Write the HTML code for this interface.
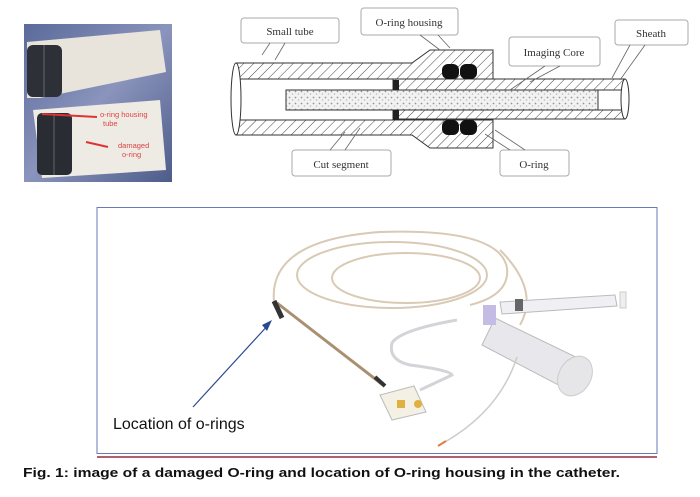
<!DOCTYPE html>
<html><head><meta charset="utf-8"><style>
html,body{margin:0;padding:0;background:#fff;}
svg{display:block;}
.sr{font-family:"Liberation Serif",serif;}
.ss{font-family:"Liberation Sans",sans-serif;}
</style></head><body>
<svg width="700" height="497" viewBox="0 0 700 497" xmlns="http://www.w3.org/2000/svg">
<defs>
<pattern id="hat" width="7" height="7" patternUnits="userSpaceOnUse" patternTransform="rotate(45)">
<rect width="7" height="7" fill="#fff"/><line x1="0" y1="0" x2="0" y2="7" stroke="#444" stroke-width="1"/></pattern>
<pattern id="dots" width="6" height="6" patternUnits="userSpaceOnUse">
<rect width="6" height="6" fill="#f2f2f2"/><circle cx="1.5" cy="1.5" r="0.9" fill="#999"/><circle cx="4.5" cy="4" r="0.8" fill="#bbb"/></pattern>
<linearGradient id="ph" x1="0" y1="0" x2="1" y2="1"><stop offset="0" stop-color="#5a6a9a"/><stop offset="0.5" stop-color="#8a94bc"/><stop offset="1" stop-color="#4e5c8a"/></linearGradient>
</defs>

<!-- photo -->
<rect x="24" y="24" width="148" height="158" fill="url(#ph)"/>
<path d="M27 42 L160 30 L166 72 L40 98 L27 98 Z" fill="#e8e4dc"/>
<path d="M33 110 L160 100 L166 170 L42 178 Z" fill="#eeeae4"/>
<rect x="27" y="45" width="35" height="52" rx="6" fill="#2e3038"/>
<line x1="44" y1="45" x2="44" y2="97" stroke="#666"/>
<rect x="37" y="113" width="35" height="62" rx="5" fill="#2a2c34"/>
<line x1="54" y1="113" x2="54" y2="175" stroke="#666"/>
<line x1="97" y1="117" x2="42" y2="114" stroke="#d33" stroke-width="2"/>
<line x1="108" y1="147" x2="86" y2="142" stroke="#d33" stroke-width="2"/>
<text class="ss" x="100" y="117" font-size="7.5" fill="#d44">o-ring housing</text>
<text class="ss" x="103" y="126" font-size="7.5" fill="#d44">tube</text>
<text class="ss" x="118" y="148" font-size="7.5" fill="#d44">damaged</text>
<text class="ss" x="122" y="157" font-size="7.5" fill="#d44">o-ring</text>

<!-- cross-section diagram -->
<g stroke="#333" stroke-width="1">
<path d="M236 63 L412 63 L430 50 L493 50 L493 79 L236 79 Z" fill="url(#hat)"/>
<path d="M236 120 L493 120 L493 148 L430 148 L412 135 L236 135 Z" fill="url(#hat)"/>
<ellipse cx="236" cy="99" rx="5" ry="36" fill="#fff"/>
<rect x="393" y="79" width="232" height="11" fill="url(#hat)"/>
<rect x="393" y="110" width="232" height="9" fill="url(#hat)"/>
<ellipse cx="625" cy="99" rx="4" ry="20" fill="#fff"/>
<rect x="286" y="90" width="312" height="20" fill="url(#dots)"/>
</g>
<rect x="393" y="80" width="6" height="10" fill="#222"/>
<rect x="393" y="110" width="6" height="10" fill="#222"/>
<g fill="#111">
<rect x="442" y="64" width="17" height="15" rx="6"/><rect x="460" y="64" width="17" height="15" rx="6"/>
<rect x="442" y="120" width="17" height="15" rx="6"/><rect x="460" y="120" width="17" height="15" rx="6"/>
</g>
<g fill="#fff" stroke="#aaa" stroke-width="1">
<rect x="241" y="18" width="98" height="25" rx="3"/>
<rect x="361" y="8" width="97" height="27" rx="3"/>
<rect x="509" y="37" width="91" height="29" rx="3"/>
<rect x="615" y="20" width="73" height="25" rx="3"/>
<rect x="292" y="150" width="99" height="26" rx="3"/>
<rect x="500" y="150" width="69" height="26" rx="3"/>
</g>
<g stroke="#666" stroke-width="0.8" fill="none">
<path d="M270 43 L262 55 M285 43 L275 60"/>
<path d="M420 35 L440 50 M438 35 L450 48"/>
<path d="M545 66 L510 90 M560 66 L530 82"/>
<path d="M630 45 L612 78 M645 45 L620 80"/>
<path d="M330 150 L345 132 M345 150 L360 128"/>
<path d="M510 150 L485 134 M525 150 L495 130"/>
</g>
<g class="sr" font-size="11" fill="#333" text-anchor="middle">
<text x="290" y="35">Small tube</text>
<text x="409" y="26">O-ring housing</text>
<text x="554" y="56">Imaging Core</text>
<text x="651" y="37">Sheath</text>
<text x="341" y="168">Cut segment</text>
<text x="534" y="168">O-ring</text>
</g>

<!-- catheter box -->
<rect x="97" y="207.5" width="560" height="246" fill="#fff" stroke="#6a7ab8" stroke-width="1"/>
<line x1="97" y1="457" x2="657" y2="457" stroke="#b06070" stroke-width="2"/>
<g fill="none" stroke="#d8cab4" stroke-width="2">
<path d="M274 302 Q268 240 380 232 Q500 228 507 268 Q510 295 470 305"/>
<path d="M500 250 Q540 290 520 325"/>
<ellipse cx="392" cy="275" rx="95" ry="33"/>
<ellipse cx="406" cy="278" rx="74" ry="25"/>
</g>
<line x1="277" y1="303" x2="383" y2="385" stroke="#a89070" stroke-width="3"/>
<line x1="274" y1="301" x2="282" y2="318" stroke="#333" stroke-width="5"/>
<line x1="375" y1="377" x2="385" y2="386" stroke="#333" stroke-width="4"/>
<path d="M457 320 Q400 330 392 343 Q388 360 410 365 Q450 370 452 375 L420 390" fill="none" stroke="#d4d4d8" stroke-width="3"/>
<path d="M380 395 L414 386 L426 412 L392 420 Z" fill="#f4f0e4" stroke="#bbb"/>
<circle cx="418" cy="404" r="4" fill="#e0b040"/>
<rect x="397" y="400" width="8" height="8" fill="#e0b040"/>
<!-- syringes -->
<path d="M500 302 L615 295 L617 306 L502 314 Z" fill="#f0f0f4" stroke="#bbb"/>
<rect x="620" y="292" width="6" height="16" fill="#eee" stroke="#ccc"/>
<rect x="515" y="299" width="8" height="12" fill="#666"/>
<path d="M495 318 L582 360 L568 390 L482 345 Z" fill="#e8e8ec" stroke="#bbb"/>
<ellipse cx="575" cy="376" rx="16" ry="21" fill="#e6e6e8" stroke="#ccc" transform="rotate(30 575 376)"/>
<rect x="483" y="305" width="13" height="20" fill="#c4bce4"/>
<path d="M517 357 Q500 410 445 442" fill="none" stroke="#ccc" stroke-width="1.5"/>
<line x1="446" y1="441" x2="438" y2="446" stroke="#e08040" stroke-width="2"/>
<line x1="193" y1="407" x2="270" y2="323" stroke="#2a4a90" stroke-width="1.2"/>
<path d="M272 320 L262 325 L267 331 Z" fill="#2a4a90"/>
<text class="ss" x="113" y="429" font-size="16" fill="#111">Location of o-rings</text>

<text class="ss" x="23" y="477" font-weight="bold" font-size="13" fill="#111" textLength="597" lengthAdjust="spacingAndGlyphs">Fig. 1: image of a damaged O-ring and location of O-ring housing in the catheter.</text>
</svg>
</body></html>
